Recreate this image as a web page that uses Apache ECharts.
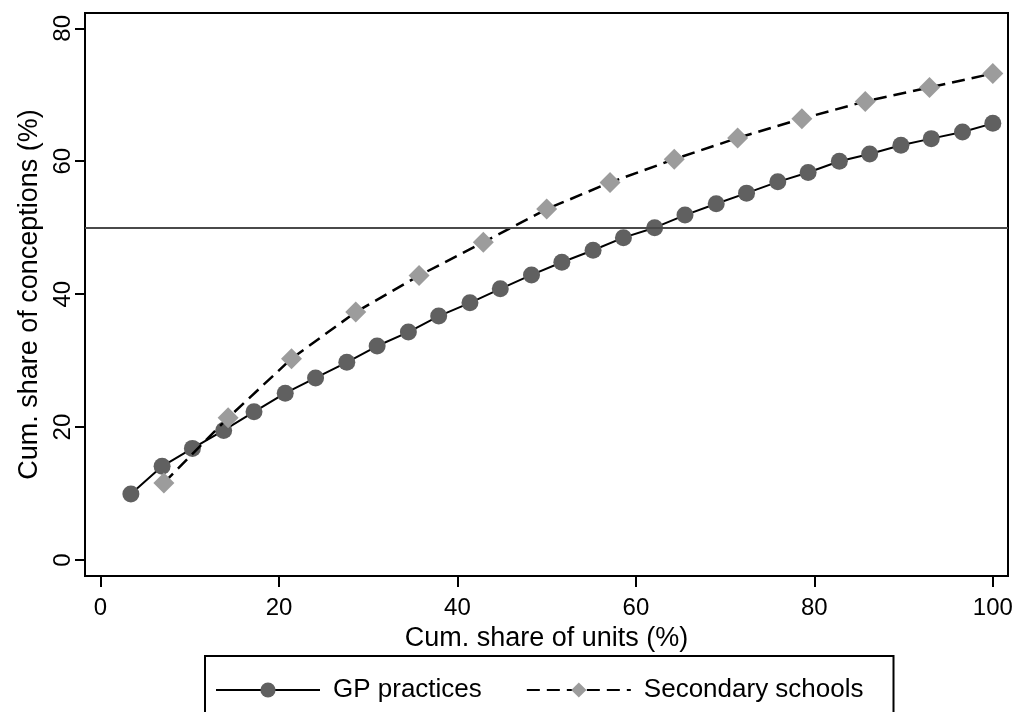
<!DOCTYPE html>
<html>
<head>
<meta charset="utf-8">
<title>Cumulative share of conceptions</title>
<script src="https://cdn.jsdelivr.net/npm/echarts@6/dist/echarts.min.js"></script>
<style>
  html, body { margin: 0; padding: 0; background: #fff; }
  #chart { width: 1016px; height: 712px; }
</style>
</head>
<body>
<div id="chart"></div>
<script>
// Cumulative share of units (%) for each group
const gpUnitShare = [3.4, 6.9, 10.3, 13.8, 17.2, 20.7, 24.1, 27.6, 31.0, 34.5,
  37.9, 41.4, 44.8, 48.3, 51.7, 55.2, 58.6, 62.1, 65.5, 69.0,
  72.4, 75.9, 79.3, 82.8, 86.2, 89.7, 93.1, 96.6, 100];
const gpConceptionShare = [9.95, 14.1, 16.8, 19.5, 22.3, 25.1, 27.4, 29.75, 32.2, 34.3,
  36.7, 38.7, 40.8, 42.9, 44.8, 46.6, 48.5, 50.0, 51.9, 53.6,
  55.2, 56.9, 58.3, 60.0, 61.1, 62.4, 63.4, 64.4, 65.7];

const schoolUnitShare = [7.1, 14.3, 21.4, 28.6, 35.7, 42.9, 50, 57.1, 64.3, 71.4, 78.6, 85.7, 92.9, 100];
const schoolConceptionShare = [11.6, 21.4, 30.3, 37.3, 42.8, 47.8, 52.8, 56.8, 60.3, 63.5, 66.4, 69.0, 71.1, 73.2];

const xTicks = [0, 20, 40, 60, 80, 100];
const yTicks = [0, 20, 40, 60, 80];
const referenceLevel = 50;

const seriesNames = ['GP practices', 'Secondary schools'];

const FONT = 'Liberation Sans, Arial, sans-serif';

function pairs(xs, ys) {
  return xs.map((x, i) => [x, ys[i]]);
}

const chart = echarts.init(document.getElementById('chart'), null, { renderer: 'canvas' });

chart.setOption({
  animation: false,
  backgroundColor: '#ffffff',
  textStyle: { fontFamily: FONT, color: '#000' },
  grid: {
    left: 85, right: 8, top: 13, bottom: 136,
    show: true, borderColor: '#000', borderWidth: 2, backgroundColor: 'transparent'
  },
  xAxis: {
    type: 'value',
    min: -1.74, max: 101.7,
    name: 'Cum. share of units (%)',
    nameLocation: 'middle',
    nameGap: 37,
    nameTextStyle: { fontFamily: FONT, fontSize: 27, color: '#000' },
    axisLine: { show: true, onZero: false, lineStyle: { color: '#000', width: 2 } },
    axisTick: { show: true, inside: false, length: 11, customValues: xTicks, lineStyle: { color: '#000', width: 2 } },
    axisLabel: { show: true, margin: 20, customValues: xTicks, fontFamily: FONT, fontSize: 24, color: '#000' },
    splitLine: { show: false }
  },
  yAxis: {
    type: 'value',
    min: -2.4, max: 82.3,
    name: 'Cum. share of conceptions (%)',
    nameLocation: 'middle',
    nameGap: 38,
    nameRotate: 90,
    nameTextStyle: { fontFamily: FONT, fontSize: 27, color: '#000' },
    axisLine: { show: true, onZero: false, lineStyle: { color: '#000', width: 2 } },
    axisTick: { show: true, inside: false, length: 10, customValues: yTicks, lineStyle: { color: '#000', width: 2 } },
    axisLabel: { show: true, rotate: 90, margin: 10, customValues: yTicks, fontFamily: FONT, fontSize: 24, color: '#000' },
    splitLine: { show: false }
  },
  legend: {
    show: true,
    left: 205,
    top: 656,
    orient: 'horizontal',
    borderColor: '#000',
    borderWidth: 2,
    borderRadius: 0,
    padding: [21, 30, 40, 10],
    itemGap: 44,
    itemWidth: 104,
    itemHeight: 19,
    textStyle: { fontFamily: FONT, fontSize: 26, color: '#000', padding: [0, 0, 0, 8] },
    data: seriesNames
  },
  series: [
    {
      name: seriesNames[0],
      type: 'line',
      data: pairs(gpUnitShare, gpConceptionShare),
      symbol: 'circle',
      symbolSize: 17,
      showAllSymbol: true,
      itemStyle: { color: '#606060' },
      lineStyle: { color: '#000', width: 2, type: 'solid' },
      z: 3,
      markLine: {
        silent: true,
        symbol: ['none', 'none'],
        label: { show: false },
        lineStyle: { color: '#4a4a4a', width: 2, type: 'solid' },
        data: [{ yAxis: referenceLevel }]
      }
    },
    {
      name: seriesNames[1],
      type: 'line',
      data: pairs(schoolUnitShare, schoolConceptionShare),
      symbol: 'diamond',
      symbolSize: [21, 21],
      showAllSymbol: true,
      itemStyle: { color: '#9c9c9c' },
      lineStyle: { color: '#000', width: 2.5, type: [13, 7] },
      z: 4
    }
  ]
});
</script>
</body>
</html>
